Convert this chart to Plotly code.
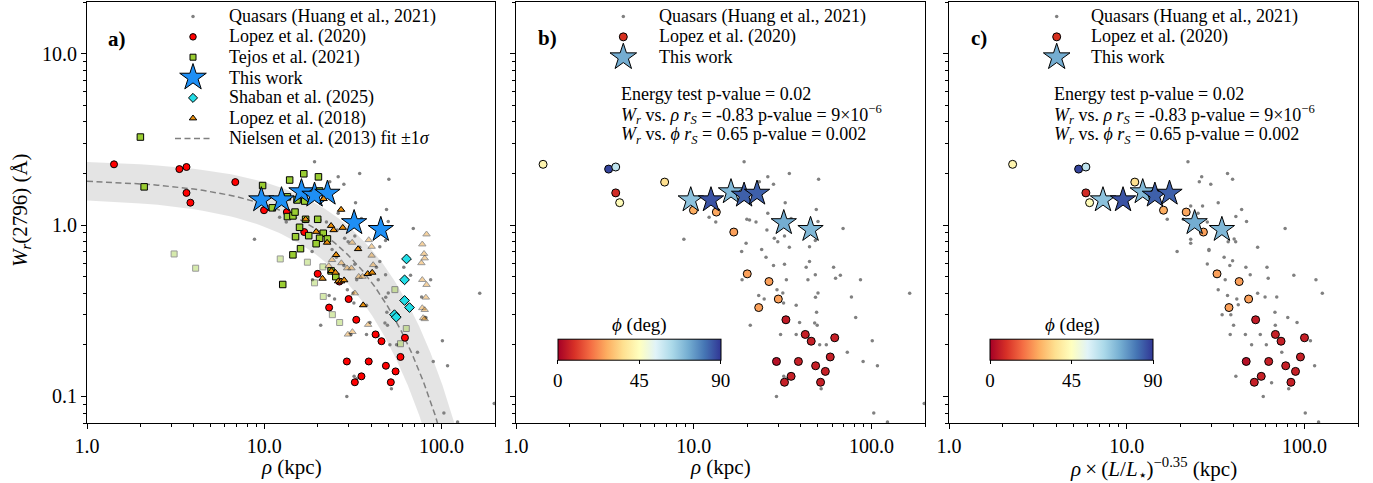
import numpy as np
import plotly.graph_objects as go

# ---------------- data ----------------
# Quasars (Huang et al. 2021) : rho (kpc), Wr (A)  -- panels a, b
QSO_RHO = [19.2, 26.1, 34.5, 50.4, 23.4, 28.1, 32.7, 48.9, 12.2, 13.3, 19.9, 20.6, 22.4, 26.1, 35.3,
           50.0, 69.2, 25.8, 8.8, 19.7, 28.4, 29.7, 34.5, 44.8, 48.3, 24.1, 18.6, 25.5, 44.8, 42.9,
           48.3, 43.9, 28.1, 32.4, 33.2, 18.7, 61.2, 62.8, 66.8, 86.7, 29.4, 31.7, 23.2, 24.9, 32.0,
           37.7, 48.4, 50.0, 77.1, 164, 49.1, 81.5, 20.8, 39.4, 47.9, 49.5, 30.8, 37.7, 43.9, 51.1,
           55.7, 73.1, 101, 89.7, 108, 32.1, 33.2, 52.1, 29.2, 103, 123, 198, 32.4]
QSO_W = [2.34, 1.91, 2.0, 1.85, 1.79, 1.73, 1.35, 1.23, 1.11, 1.04, 1.08, 1.07, 1.04, 1.17, 1.09,
         1.05, 0.955, 0.935, 0.826, 0.782, 0.836, 0.80, 0.741, 0.748, 0.811, 0.721, 0.70, 0.649, 0.612, 0.567,
         0.512, 0.479, 0.58, 0.59, 0.479, 0.479, 0.567, 0.49, 0.509, 0.479, 0.419, 0.401, 0.388, 0.37, 0.351,
         0.34, 0.379, 0.401, 0.38, 0.40, 0.31, 0.289, 0.26, 0.27, 0.268, 0.26, 0.23, 0.23, 0.226, 0.20,
         0.20, 0.181, 0.211, 0.16, 0.151, 0.131, 0.127, 0.111, 0.10, 0.080, 0.071, 0.091, 0.863]
# Quasars in panel c : rho x (L/L*)^-0.35, Wr
QSO_RHO_SCALED = [22.1, 26.4, 25.6, 29.7, 36.9, 39.4, 22.9, 26.7, 32.7, 44.3, 16.9, 20.8, 28.4, 25.2, 41.1,
                  47.2, 77.8, 22.9, 22.9, 40.2, 41.0, 37.2, 54.5, 29.0, 19.2, 29.0, 28.4, 35.3, 38.0, 39.4,
                  46.8, 49.5, 61.5, 62.5, 87.1, 116, 126, 32.7, 35.8, 36.9, 41.6, 42.4, 54.5, 60.0, 69.8,
                  68.2, 80.5, 90.8, 34.4, 38.5, 39.9, 38.2, 46.5, 56.4, 50.4, 61.0, 68.5, 74.5, 108, 114,
                  41.1, 65.3, 81.5, 58.6, 101, 120]
QSO_W_SCALED = [2.34, 1.91, 1.79, 1.73, 2.0, 1.85, 1.29, 1.29, 1.35, 1.23, 1.08, 1.08, 1.04, 1.17, 1.12,
                1.05, 0.955, 0.826, 0.782, 0.83, 0.80, 0.80, 0.741, 0.721, 0.70, 0.71, 0.593, 0.649, 0.58, 0.618,
                0.567, 0.512, 0.567, 0.49, 0.509, 0.479, 0.40, 0.419, 0.479, 0.388, 0.37, 0.343, 0.40, 0.38, 0.38,
                0.31, 0.289, 0.27, 0.30, 0.30, 0.26, 0.23, 0.23, 0.23, 0.20, 0.20, 0.26, 0.181, 0.211, 0.151,
                0.131, 0.12, 0.111, 0.10, 0.080, 0.071]

# Lopez et al. (2020)
L20_RHO = [1.42, 3.32, 3.64, 3.64, 3.83, 6.86, 9.96, 13.4, 16.8, 20.0, 26.5, 29.9, 23.2, 33.0, 42.4,
           45.8, 62.1, 58.6, 29.2, 38.8, 48.5, 55.0, 35.3, 32.4, 51.7]
L20_RHO_SCALED = [2.28, 5.36, 5.89, 5.89, 6.18, 11.1, 16.1, 21.6, 27.0, 32.2, 42.9, 48.5, 37.6, 53.1, 68.6,
                  73.8, 100, 94.9, 47.0, 62.9, 78.4, 89.0, 57.1, 52.2, 83.9]
L20_W = [2.26, 2.12, 2.18, 1.54, 1.35, 1.78, 1.22, 1.19, 0.91, 0.519, 0.468, 0.370, 0.330, 0.280, 0.230,
         0.210, 0.220, 0.170, 0.160, 0.160, 0.151, 0.140, 0.131, 0.121, 0.121]
L20_PHI = [42, 88, 60, 8, 44, 36, 27, 26, 25, 25, 25, 25, 25, 5, 6,
           6, 6, 6, 3, 6, 6, 6, 6, 6, 6]

# This work
TW_RHO = [9.62, 12.5, 16.2, 19.2, 22.7, 32.1, 45.4]
TW_RHO_SCALED = [7.35, 9.53, 12.3, 14.4, 17.4, 24.1, 34.3]
TW_W = [1.40, 1.40, 1.56, 1.49, 1.53, 1.03, 0.94]
TW_PHI = [68, 86, 70, 84, 84, 72, 70]

# Tejos et al. (2021): detections and (faded) limits
TJ_RHO = [2.10, 2.0, 9.78, 11.1, 13.9, 16.7, 20.2, 15.3, 16.9, 20.5, 13.5, 14.5, 14.9, 17.1, 20.0,
          15.8, 15.0, 17.8, 21.5, 20.5, 19.6, 22.7, 16.0, 14.5, 12.7, 13.5, 23.8, 25.3]
TJ_W = [1.67, 3.26, 1.70, 1.26, 1.83, 1.99, 1.91, 1.40, 1.38, 1.58, 1.12, 1.13, 1.19, 1.08, 1.08,
        0.97, 0.855, 0.867, 0.895, 0.837, 0.778, 0.83, 0.728, 0.67, 0.45, 1.46, 0.54, 0.50]
TJF_RHO = [3.1, 4.1, 12.3, 17.5, 19.2, 21.4, 21.5, 24.2, 26.6, 54.5, 63.2, 58.6]
TJF_W = [0.678, 0.56, 0.634, 0.607, 0.46, 0.57, 0.383, 0.30, 0.27, 0.42, 0.249, 0.203]

# Shaban et al. (2025)
SH_RHO = [63.4, 61.8, 61.8, 65.9, 54.2, 55.5]
SH_W = [0.634, 0.479, 0.363, 0.33, 0.30, 0.29]

# Lopez et al. (2018): detections and (faded) limits
L18_RHO = [21.6, 27.1, 17.1, 23.8, 24.6, 27.7, 19.6, 33.8, 25.4, 23.9, 25.2, 21.3, 26.1, 27.1, 28.2,
           38.3, 40.6, 36.1, 22.6]
L18_W = [1.42, 1.23, 1.08, 0.99, 0.935, 0.965, 0.914, 0.725, 0.67, 0.54, 0.528, 0.487, 0.47, 0.47, 0.477,
         0.519, 0.528, 0.341, 0.79]
L18F_RHO = [38.8, 40.3, 31.3, 40.3, 41.1, 24.1, 27.2, 29.3, 31.0, 23.1, 34.1, 35.8, 32.4, 82.2, 77.8,
            79.6, 80.3, 76.9, 77.8, 82.2, 81.5, 77.8, 80.3, 78.7, 80.3, 38.5, 29.6, 31.4]
L18F_W = [0.818, 0.748, 0.79, 0.664, 0.585, 0.626, 0.60, 0.56, 0.56, 0.577, 0.50, 0.50, 0.40, 0.883, 0.772,
          0.68, 0.64, 0.60, 0.479, 0.448, 0.378, 0.328, 0.32, 0.287, 0.283, 0.262, 0.23, 0.238]

# Nielsen et al. (2013) fit: log Wr = A + B*rho (+/- 1 sigma)
NIELSEN_A, NIELSEN_A_ERR = 0.27, 0.11
NIELSEN_B, NIELSEN_B_ERR = -0.015, 0.002

X_TICKS = [1, 10, 100]
X_TICKTEXT = ["1.0", "10.0", "100.0"]
Y_TICKS = [0.1, 1, 10]
Y_TICKTEXT = ["0.1", "1.0", "10.0"]
PHI_TICKS = [0, 45, 90]

# ---------------- layout geometry ----------------
W, H = 1373, 483
ML, MR, MT, MB = 87, 15, 2, 60
PW = W - ML - MR
PH = H - MT - MB
FONT = "Liberation Serif, Times New Roman, serif"


def dom(a, b):
    return [(a - ML) / PW, (b - ML) / PW]


def px(x):
    return (x - ML) / PW


def py(y):
    return (H - MB - y) / PH


fig = go.Figure()

# Nielsen band and fit line (panel a)
fit_rho = np.linspace(1.0, 200.0, 400)
fit_mid = 10 ** (NIELSEN_A + NIELSEN_B * fit_rho)
fit_hi = 10 ** (NIELSEN_A + NIELSEN_A_ERR + (NIELSEN_B + NIELSEN_B_ERR) * fit_rho)
fit_lo = 10 ** (NIELSEN_A - NIELSEN_A_ERR + (NIELSEN_B - NIELSEN_B_ERR) * fit_rho)
fig.add_trace(go.Scatter(x=fit_rho, y=fit_lo, mode="lines", line=dict(width=0), xaxis="x", yaxis="y",
                         showlegend=False, hoverinfo="skip"))
fig.add_trace(go.Scatter(x=fit_rho, y=fit_hi, mode="lines", line=dict(width=0), fill="tonexty",
                         fillcolor="rgba(0,0,0,0.105)", xaxis="x", yaxis="y", showlegend=False, hoverinfo="skip"))
fig.add_trace(go.Scatter(x=fit_rho, y=fit_mid, mode="lines", line=dict(color="gray", width=1.5, dash="6px,3.5px"),
                         xaxis="x", yaxis="y", showlegend=False, hoverinfo="skip"))


def pts(x, y, xa, ya, **marker):
    fig.add_trace(go.Scatter(x=x, y=y, mode="markers", xaxis=xa, yaxis=ya, marker=marker,
                             showlegend=False, hoverinfo="skip"))


EDGE = dict(color="black", width=1)
QSO_STYLE = dict(symbol="circle", size=3.5, color="#808080", line=dict(width=0))

# panel a
pts(QSO_RHO, QSO_W, "x", "y", **QSO_STYLE)
pts(TJF_RHO, TJF_W, "x", "y", symbol="square", size=6, color="#9acd32", line=EDGE, opacity=0.4)
pts(L18F_RHO, L18F_W, "x", "y", symbol="triangle-up", size=6.5, color="#ea8f0c", line=EDGE, opacity=0.4)
pts(L20_RHO, L20_W, "x", "y", symbol="circle", size=7, color="#ff0000", line=EDGE)
pts(TJ_RHO, TJ_W, "x", "y", symbol="square", size=6.5, color="#9acd32", line=EDGE)
pts(TW_RHO, TW_W, "x", "y", symbol="star", size=19, color="#1e8ff5", line=EDGE)
pts(SH_RHO, SH_W, "x", "y", symbol="diamond", size=7.5, color="#22dde6", line=EDGE)
pts(L18_RHO, L18_W, "x", "y", symbol="triangle-up", size=6.5, color="#ea8f0c", line=EDGE)

# panels b and c
for xa, ya, ca, qx, qy, lx, tx in [("x2", "y2", "coloraxis", QSO_RHO, QSO_W, L20_RHO, TW_RHO),
                                   ("x3", "y3", "coloraxis2", QSO_RHO_SCALED, QSO_W_SCALED, L20_RHO_SCALED, TW_RHO_SCALED)]:
    pts(qx, qy, xa, ya, **QSO_STYLE)
    pts(lx, L20_W, xa, ya, symbol="circle", size=8, color=L20_PHI, coloraxis=ca, line=EDGE)
    pts(tx, TW_W, xa, ya, symbol="star", size=19, color=TW_PHI, coloraxis=ca, line=EDGE)

# ---------------- hand-made legends (pixel overlay axes) ----------------
ROW0, ROWSTEP = 16.5, 20.35


def row(k):
    return ROW0 + ROWSTEP * k


def glyph(x, y, **marker):
    fig.add_trace(go.Scatter(x=[x], y=[y], mode="markers", xaxis="x4", yaxis="y4", marker=marker,
                             showlegend=False, hoverinfo="skip"))


def ann(text, x, y, xanchor="left", yanchor="middle", size=18, angle=0):
    fig.add_annotation(text=text, x=px(x), y=py(y), xref="paper", yref="paper", xanchor=xanchor,
                       yanchor=yanchor, showarrow=False, textangle=angle,
                       font=dict(family=FONT, size=size, color="black"))


LEG_A = ["Quasars (Huang et al., 2021)", "Lopez et al. (2020)", "Tejos et al. (2021)", "This work",
         "Shaban et al. (2025)", "Lopez et al. (2018)", "Nielsen et al. (2013) fit ±1<i>σ</i>"]
mxa, txa = 193, 227
glyph(mxa, row(0), **QSO_STYLE)
glyph(mxa, row(1), symbol="circle", size=6.5, color="#ff0000", line=EDGE)
glyph(mxa, row(2), symbol="square", size=6, color="#9acd32", line=EDGE)
glyph(mxa, row(3), symbol="star", size=20, color="#1e8ff5", line=EDGE)
glyph(mxa, row(4), symbol="diamond", size=7, color="#22dde6", line=EDGE)
glyph(mxa, row(5), symbol="triangle-up", size=6.5, color="#ea8f0c", line=EDGE)
fig.add_trace(go.Scatter(x=[175, 212], y=[row(6), row(6)], mode="lines", xaxis="x4", yaxis="y4",
                         line=dict(color="gray", width=1.5, dash="6px,3.5px"), showlegend=False, hoverinfo="skip"))
for k, t in enumerate(LEG_A):
    ann(t, txa, row(k))

LEG_BC = ["Quasars (Huang et al., 2021)", "Lopez et al. (2020)", "This work"]
STATS = ["Energy test p-value = 0.02",
         "<i>W</i><sub><i>r</i></sub> vs. <i>ρ</i> <i>r</i><sub><i>S</i></sub> = -0.83 p-value = 9×10<sup>−6</sup>",
         "<i>W</i><sub><i>r</i></sub> vs. <i>ϕ</i> <i>r</i><sub><i>S</i></sub> = 0.65 p-value = 0.002"]
STATS_Y = [94, 114.5, 135]
for mx, tx, sx in [(623.3, 656.7, 619.3), (1056.7, 1089, 1051.7)]:
    glyph(mx, row(0), **QSO_STYLE)
    glyph(mx, row(1), symbol="circle", size=8, color="#d7301f", line=EDGE)
    glyph(mx, row(2), symbol="star", size=20, color="#74add1", line=EDGE)
    for k, t in enumerate(LEG_BC):
        ann(t, tx, row(k))
    for t, yy in zip(STATS, STATS_Y):
        ann(t, sx, yy)

# panel labels
ann("<b>a)</b>", 106, 39, size=21)
ann("<b>b)</b>", 536, 38.5, size=21)
ann("<b>c)</b>", 969, 38.5, size=21)

# axis titles
TITLE_SIZE = 21
ann("<i>W</i><sub><i>r</i></sub>(2796) (Å)", 21, 210, xanchor="center", angle=-90, size=TITLE_SIZE)
ann("<i>ρ</i> (kpc)", 291, 467, xanchor="center", size=TITLE_SIZE)
ann("<i>ρ</i> (kpc)", 720.5, 467, xanchor="center", size=TITLE_SIZE)
ann("<i>ρ</i>\u2009×\u2009(<i>L</i>/<i>L</i><sub>⋆</sub>)<sup>−0.35</sup> (kpc)", 1153.5, 469,
    xanchor="center", size=TITLE_SIZE)

# colorbar titles
ann("<i>ϕ</i> (deg)", 639, 325, xanchor="center", size=19)
ann("<i>ϕ</i> (deg)", 1072, 325, xanchor="center", size=19)

# ---------------- axes ----------------
minor_vals = [m * 10.0 ** e for e in range(-2, 3) for m in range(2, 10)]
tickfont = dict(family=FONT, size=20, color="black")
xcommon = dict(type="log", range=[0, np.log10(200)], tickmode="array", tickvals=X_TICKS, ticktext=X_TICKTEXT,
               ticks="outside", ticklen=5, tickwidth=1, tickcolor="black", showline=True, linecolor="black",
               linewidth=1, mirror=True, showgrid=False, zeroline=False, tickfont=tickfont,
               minor=dict(tickmode="array", tickvals=minor_vals, ticks="outside", ticklen=3, tickwidth=1,
                          tickcolor="black", showgrid=False))
ycommon = dict(type="log", range=[np.log10(0.07), np.log10(20)], tickmode="array", tickvals=Y_TICKS,
               ticktext=Y_TICKTEXT, ticks="outside", ticklen=5, tickwidth=1, tickcolor="black", showline=True,
               linecolor="black", linewidth=1, mirror=True, showgrid=False, zeroline=False, tickfont=tickfont,
               minor=dict(tickmode="array", tickvals=minor_vals, ticks="outside", ticklen=3, tickwidth=1,
                          tickcolor="black", showgrid=False))


def cbar(x_left):
    return dict(orientation="h", x=px(x_left), xanchor="left", y=py(392), yanchor="bottom",
                len=163, lenmode="pixels", thickness=21, thicknessmode="pixels", xpad=0, ypad=0,
                outlinewidth=1, outlinecolor="black", tickmode="array", tickvals=PHI_TICKS, ticks="outside",
                ticklen=4, tickcolor="black", tickfont=dict(family=FONT, size=19, color="black"))


fig.update_layout(
    width=W, height=H, margin=dict(l=ML, r=MR, t=MT, b=MB, pad=0),
    paper_bgcolor="white", plot_bgcolor="rgba(0,0,0,0)", showlegend=False,
    font=dict(family=FONT, size=18, color="black"),
    xaxis=dict(domain=dom(87, 495), anchor="y", **xcommon),
    xaxis2=dict(domain=dom(516, 925), anchor="y2", **xcommon),
    xaxis3=dict(domain=dom(949, 1358), anchor="y3", **xcommon),
    yaxis=dict(domain=[0, 1], anchor="x", **ycommon),
    yaxis2=dict(domain=[0, 1], anchor="x2", matches="y", showticklabels=False, **ycommon),
    yaxis3=dict(domain=[0, 1], anchor="x3", matches="y", showticklabels=False, **ycommon),
    xaxis4=dict(domain=[0, 1], anchor="y4", range=[ML, W - MR], visible=False, fixedrange=True),
    yaxis4=dict(domain=[0, 1], anchor="x4", range=[H - MB, MT], visible=False, fixedrange=True),
    coloraxis=dict(colorscale="RdYlBu", cmin=0, cmax=90, colorbar=cbar(557.7)),
    coloraxis2=dict(colorscale="RdYlBu", cmin=0, cmax=90, colorbar=cbar(990)),
)

fig.write_html("out.html")
